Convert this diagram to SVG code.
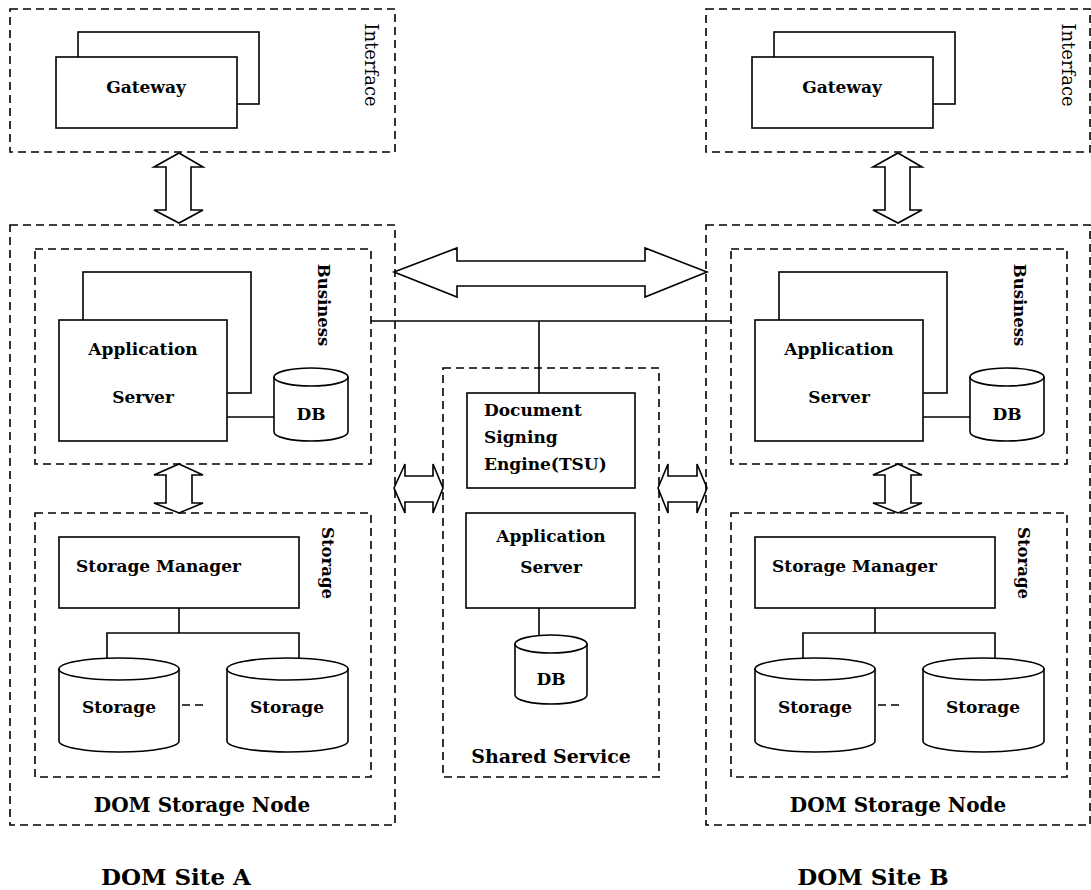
<svg xmlns="http://www.w3.org/2000/svg" width="1091" height="890" viewBox="0 0 1091 890">
  <style>
    .bg { fill: #ffffff; }
    .zone { fill: none; stroke: #000; stroke-width: 1.6; stroke-dasharray: 8 5; }
    .box { fill: #ffffff; stroke: #000; stroke-width: 1.6; }
    .wire { fill: none; stroke: #000; stroke-width: 1.6; }
    .dash { fill: none; stroke: #000; stroke-width: 1.6; stroke-dasharray: 8 5; }
    .arrow { fill: #ffffff; stroke: #000; stroke-width: 1.6; stroke-linejoin: miter; }
    .t { font-family: "DejaVu Serif", "Liberation Serif", serif; font-weight: bold; font-size: 17px; fill: #000; }
    .side { font-family: "DejaVu Serif", "Liberation Serif", serif; font-size: 18px; fill: #000; }
    .sideb { font-family: "DejaVu Serif", "Liberation Serif", serif; font-weight: bold; font-size: 16.5px; fill: #000; }
    .cap { font-family: "DejaVu Serif", "Liberation Serif", serif; font-weight: bold; font-size: 20px; fill: #000; }
    .site { font-family: "DejaVu Serif", "Liberation Serif", serif; font-weight: bold; font-size: 23px; fill: #000; }
  </style>

  <rect class="bg" x="0" y="0" width="1091" height="890"/>

  <!-- links between components -->
  <g id="connectors">
    <!-- bus from both business tiers to the signing engine -->
    <line class="wire" x1="371" y1="321" x2="731" y2="321"/>
    <line class="wire" x1="539" y1="321" x2="539" y2="393"/>
    <!-- site A internal links -->
    <line class="wire" x1="227" y1="417" x2="274" y2="417"/>
    <polyline class="wire" points="179,608 179,633"/>
    <polyline class="wire" points="107,662 107,633 299,633 299,662"/>
    <line class="dash" x1="182" y1="705" x2="206" y2="705"/>
    <!-- site B internal links -->
    <line class="wire" x1="923" y1="417" x2="970" y2="417"/>
    <polyline class="wire" points="875,608 875,633"/>
    <polyline class="wire" points="803,662 803,633 995,633 995,662"/>
    <line class="dash" x1="878" y1="705" x2="902" y2="705"/>
    <!-- shared service internal link -->
    <line class="wire" x1="539" y1="608" x2="539" y2="637"/>

    <!-- double arrows -->
    <polygon class="arrow" points="179,153 203,167 191,167 191,210 203,210 179,223 154,210 166,210 166,167 154,167"/>
    <polygon class="arrow" points="179,464 203,475 192,475 192,503 203,503 179,513 154,503 166,503 166,475 154,475"/>
    <polygon class="arrow" points="898,153 922,167 910,167 910,210 922,210 898,223 873,210 885,210 885,167 873,167"/>
    <polygon class="arrow" points="898,464 922,475 911,475 911,503 922,503 898,513 873,503 885,503 885,475 873,475"/>
    <polygon class="arrow" points="394,272 457,248 457,261 645,261 645,248 707,272 645,297 645,286 457,286 457,297"/>
    <polygon class="arrow" points="394,488 405,464 405,476 433,476 433,464 443,488 433,513 433,502 405,502 405,513"/>
    <polygon class="arrow" points="658,488 668,464 668,476 697,476 697,464 707,488 697,513 697,502 668,502 668,513"/>
  </g>

  <!-- ===== Site A ===== -->
  <g id="a-interface">
    <rect class="zone" x="10" y="9" width="385" height="143"/>
    <text class="side" transform="translate(365,65) rotate(90)" text-anchor="middle">Interface</text>
  </g>
  <g id="a-gateway">
    <rect class="box" x="78" y="32" width="181" height="72"/>
    <rect class="box" x="56" y="57" width="181" height="71"/>
    <text class="t" x="146" y="93" text-anchor="middle">Gateway</text>
  </g>
  <g id="a-storage-node">
    <rect class="zone" x="10" y="225" width="385" height="600"/>
    <text class="cap" x="202" y="812" text-anchor="middle">DOM Storage Node</text>
  </g>
  <g id="a-business">
    <rect class="zone" x="35" y="249" width="336" height="215"/>
    <text class="sideb" transform="translate(318,305) rotate(90)" text-anchor="middle">Business</text>
  </g>
  <g id="a-app-server">
    <rect class="box" x="83" y="272" width="168" height="121"/>
    <rect class="box" x="59" y="320" width="168" height="121"/>
    <text class="t" x="143" y="355" text-anchor="middle">Application</text>
    <text class="t" x="143" y="403" text-anchor="middle">Server</text>
  </g>
  <g id="a-db">
    <path class="box" d="M274,377 L274,432 A37,9 0 0 0 348,432 L348,377 Z"/>
    <ellipse class="box" cx="311" cy="377" rx="37" ry="9"/>
    <text class="t" x="311" y="420" text-anchor="middle">DB</text>
  </g>
  <g id="a-storage">
    <rect class="zone" x="35" y="513" width="336" height="264"/>
    <text class="sideb" transform="translate(322,563) rotate(90)" text-anchor="middle">Storage</text>
  </g>
  <g id="a-storage-manager">
    <rect class="box" x="59" y="537" width="240" height="71"/>
    <text class="t" x="76" y="572">Storage Manager</text>
  </g>
  <g id="a-storage-1">
    <path class="box" d="M59,669 L59,741 A60,11 0 0 0 179,741 L179,669 Z"/>
    <ellipse class="box" cx="119" cy="669" rx="60" ry="11"/>
    <text class="t" x="119" y="713" text-anchor="middle">Storage</text>
  </g>
  <g id="a-storage-2">
    <path class="box" d="M227,669 L227,741 A60.5,11 0 0 0 348,741 L348,669 Z"/>
    <ellipse class="box" cx="287.5" cy="669" rx="60.5" ry="11"/>
    <text class="t" x="287" y="713" text-anchor="middle">Storage</text>
  </g>
  <g id="a-site-label">
    <text class="site" x="176" y="885" text-anchor="middle">DOM Site A</text>
  </g>

  <!-- ===== Shared service ===== -->
  <g id="shared-service">
    <rect class="zone" x="443" y="368" width="216" height="409"/>
    <text class="cap" x="551" y="763" text-anchor="middle" style="font-size:19px">Shared Service</text>
  </g>
  <g id="signing-engine">
    <rect class="box" x="467" y="393" width="168" height="95"/>
    <text class="t" x="484" y="416">Document</text>
    <text class="t" x="484" y="443">Signing</text>
    <text class="t" x="484" y="470">Engine(TSU)</text>
  </g>
  <g id="shared-app-server">
    <rect class="box" x="466" y="513" width="169" height="95"/>
    <text class="t" x="551" y="542" text-anchor="middle">Application</text>
    <text class="t" x="551" y="573" text-anchor="middle">Server</text>
  </g>
  <g id="shared-db">
    <path class="box" d="M515,644 L515,695 A36,9 0 0 0 587,695 L587,644 Z"/>
    <ellipse class="box" cx="551" cy="644" rx="36" ry="9"/>
    <text class="t" x="551" y="685" text-anchor="middle">DB</text>
  </g>

  <!-- ===== Site B (same layout as site A, shifted right) ===== -->
  <g id="b-interface" transform="translate(696,0)">
    <rect class="zone" x="10" y="9" width="384" height="143"/>
    <text class="side" transform="translate(366,65) rotate(90)" text-anchor="middle">Interface</text>
  </g>
  <g id="b-gateway" transform="translate(696,0)">
    <rect class="box" x="78" y="32" width="181" height="72"/>
    <rect class="box" x="56" y="57" width="181" height="71"/>
    <text class="t" x="146" y="93" text-anchor="middle">Gateway</text>
  </g>
  <g id="b-storage-node" transform="translate(696,0)">
    <rect class="zone" x="10" y="225" width="384" height="600"/>
    <text class="cap" x="202" y="812" text-anchor="middle">DOM Storage Node</text>
  </g>
  <g id="b-business" transform="translate(696,0)">
    <rect class="zone" x="35" y="249" width="336" height="215"/>
    <text class="sideb" transform="translate(318,305) rotate(90)" text-anchor="middle">Business</text>
  </g>
  <g id="b-app-server" transform="translate(696,0)">
    <rect class="box" x="83" y="272" width="168" height="121"/>
    <rect class="box" x="59" y="320" width="168" height="121"/>
    <text class="t" x="143" y="355" text-anchor="middle">Application</text>
    <text class="t" x="143" y="403" text-anchor="middle">Server</text>
  </g>
  <g id="b-db" transform="translate(696,0)">
    <path class="box" d="M274,377 L274,432 A37,9 0 0 0 348,432 L348,377 Z"/>
    <ellipse class="box" cx="311" cy="377" rx="37" ry="9"/>
    <text class="t" x="311" y="420" text-anchor="middle">DB</text>
  </g>
  <g id="b-storage" transform="translate(696,0)">
    <rect class="zone" x="35" y="513" width="336" height="264"/>
    <text class="sideb" transform="translate(322,563) rotate(90)" text-anchor="middle">Storage</text>
  </g>
  <g id="b-storage-manager" transform="translate(696,0)">
    <rect class="box" x="59" y="537" width="240" height="71"/>
    <text class="t" x="76" y="572">Storage Manager</text>
  </g>
  <g id="b-storage-1" transform="translate(696,0)">
    <path class="box" d="M59,669 L59,741 A60,11 0 0 0 179,741 L179,669 Z"/>
    <ellipse class="box" cx="119" cy="669" rx="60" ry="11"/>
    <text class="t" x="119" y="713" text-anchor="middle">Storage</text>
  </g>
  <g id="b-storage-2" transform="translate(696,0)">
    <path class="box" d="M227,669 L227,741 A60.5,11 0 0 0 348,741 L348,669 Z"/>
    <ellipse class="box" cx="287.5" cy="669" rx="60.5" ry="11"/>
    <text class="t" x="287" y="713" text-anchor="middle">Storage</text>
  </g>
  <g id="b-site-label">
    <text class="site" x="873" y="885" text-anchor="middle">DOM Site B</text>
  </g>
</svg>
